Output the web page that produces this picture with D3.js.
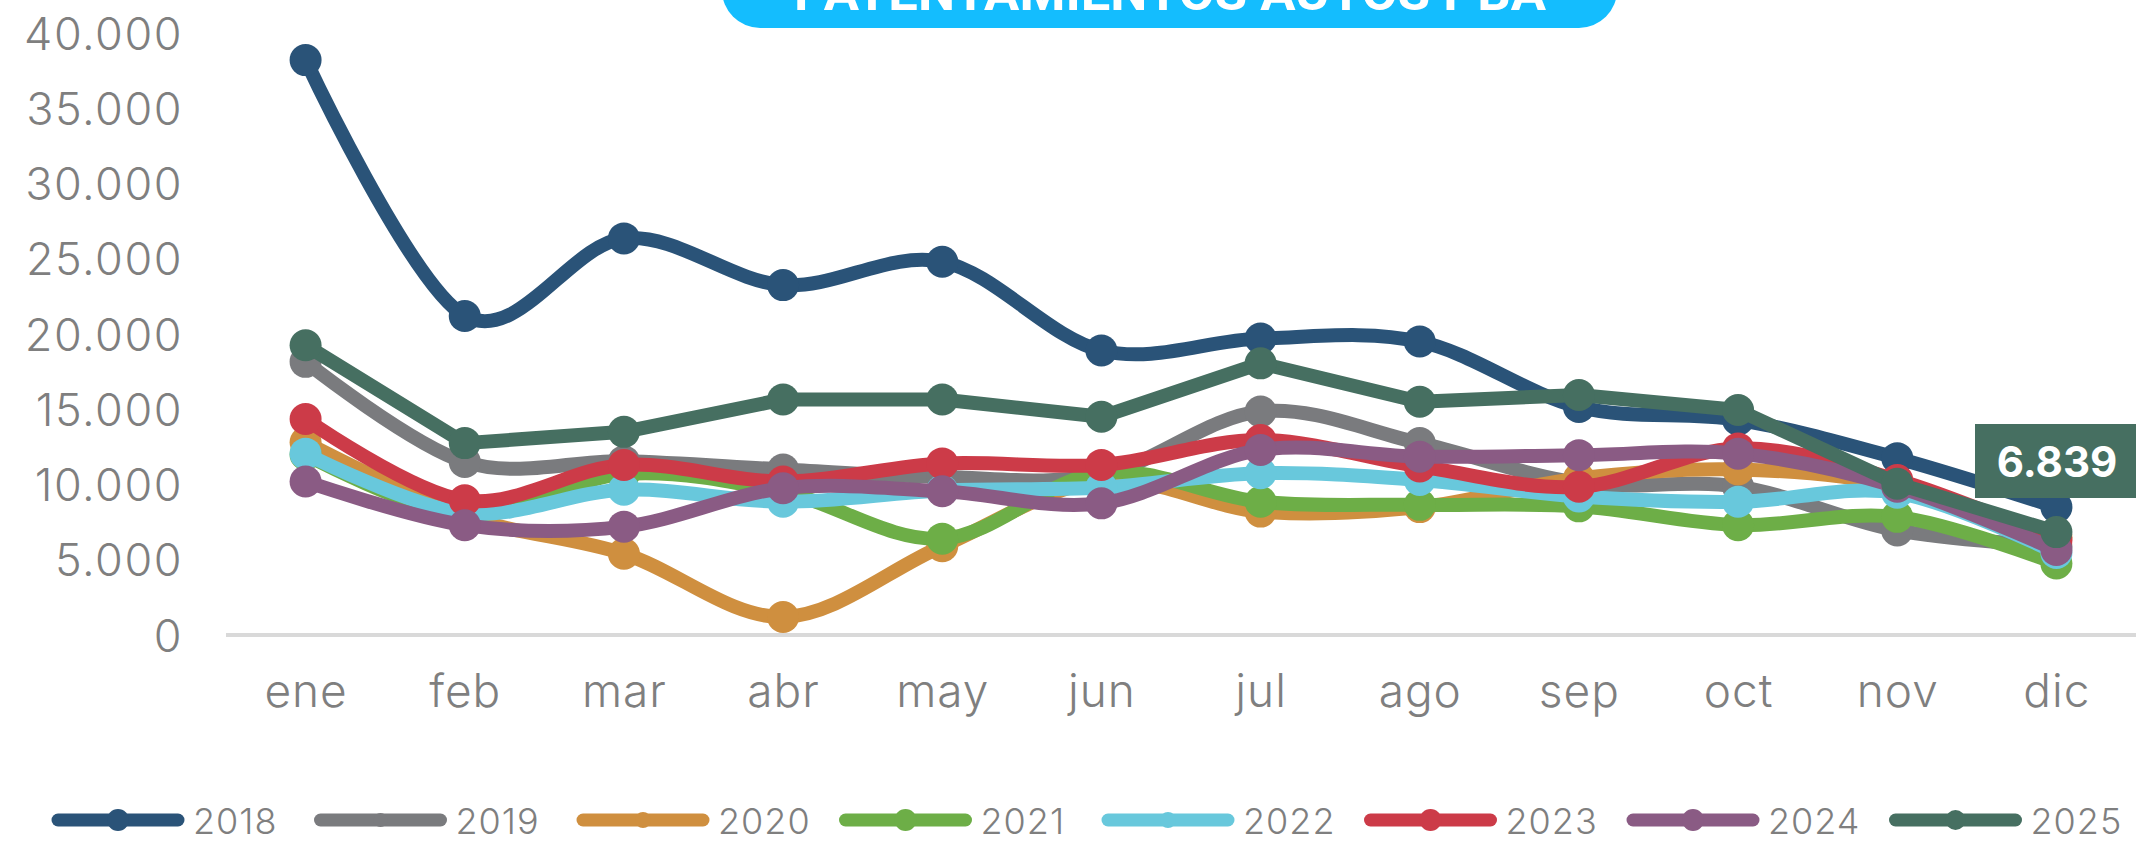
<!DOCTYPE html>
<html>
<head>
<meta charset="utf-8">
<script src="https://cdn.jsdelivr.net/npm/d3@7"></script>
<style>
    body { margin: 0; background: #fff; }
    svg { display: block; }
</style>
</head>
<body>
<svg id="chart" width="2136" height="843"></svg>
<script>
var months = ["ene", "feb", "mar", "abr", "may", "jun", "jul", "ago", "sep", "oct", "nov", "dic"];
var years = ["2018", "2019", "2020", "2021", "2022", "2023", "2024", "2025"];
var yTicks = [0, 5000, 10000, 15000, 20000, 25000, 30000, 35000, 40000];

var v2018 = [38200, 21200, 26350, 23250, 24800, 18900, 19700, 19500, 15150, 14300, 11750, 8500];
var v2019 = [18150, 11500, 11550, 11000, 10500, 10650, 14850, 12750, 10100, 9850, 6950, 5900];
var v2020 = [12800, 7900, 5400, 1200, 5900, 10250, 8200, 8500, 10400, 11000, 9900, 6500];
var v2021 = [12000, 8000, 10700, 9500, 6400, 10800, 8850, 8650, 8550, 7300, 7850, 4750];
var v2022 = [12050, 8100, 9650, 8850, 9600, 9800, 10750, 10300, 9200, 8850, 9450, 5450];
var v2023 = [14350, 8950, 11300, 10200, 11400, 11300, 12950, 11200, 9850, 12400, 10300, 6300];
var v2024 = [10200, 7300, 7200, 9750, 9550, 8750, 12300, 11850, 11950, 12050, 9850, 5650];
var v2025 = [19250, 12750, 13500, 15650, 15650, 14500, 18050, 15500, 15950, 14950, 10050, 6839];

var lastLabel = "6.839";

var colors = ["#2a5378", "#7a7b7e", "#cf8f3f", "#6dae47", "#68c8dc", "#cc3b48", "#8a5b84", "#466f61"];
var legendR = [11, 7, 8, 11, 8, 11, 11, 10];
var smooth = [true, true, true, true, true, true, true, false];

var values = [v2018, v2019, v2020, v2021, v2022, v2023, v2024, v2025];
var series = years.map(function(y, i) {
    return { year: y, values: values[i], color: colors[i], legendR: legendR[i], smooth: smooth[i] };
});

var fmt = function(v) { return d3.format(",")(v).replace(/,/g, "."); };

var svg = d3.select("#chart");

// title pill, cut by the top edge as in the original
svg.append("rect")
    .attr("x", 722).attr("y", -60)
    .attr("width", 895).attr("height", 88)
    .attr("rx", 38).attr("ry", 38)
    .attr("fill", "#14bdfe");
svg.append("text")
    .attr("x", 1170).attr("y", 10)
    .attr("text-anchor", "middle")
    .attr("textLength", 752)
    .attr("lengthAdjust", "spacingAndGlyphs")
    .style("font-family", "Roboto, sans-serif")
    .style("font-weight", "700")
    .style("font-size", "50px")
    .attr("fill", "#fff")
    .text("PATENTAMIENTOS AUTOS PBA");

var x = d3.scalePoint()
    .domain(months)
    .range([226, 2136])
    .padding(0.5);

var y = d3.scaleLinear()
    .domain([0, 40000])
    .range([635, 33]);

// y axis labels only
var yAxis = svg.append("g")
    .attr("transform", "translate(183,0)")
    .call(d3.axisLeft(y).tickValues(yTicks).tickFormat(fmt).tickSize(0).tickPadding(0));
yAxis.select(".domain").remove();
yAxis.selectAll("text")
    .attr("dy", "0.36em")
    .style("font-family", "Inter, sans-serif")
    .style("font-weight", "300")
    .style("font-size", "45px")
    .style("letter-spacing", "1.5px")
    .attr("fill", "#7f7f7f");

// x axis
var xAxis = svg.append("g")
    .attr("transform", "translate(0,635)")
    .call(d3.axisBottom(x).tickSize(0).tickPadding(0));
xAxis.select(".domain")
    .attr("stroke", "#d9d9d9")
    .attr("stroke-width", 4)
    .attr("d", "M226,0H2136");
xAxis.selectAll("text")
    .attr("y", 72)
    .attr("dy", 0)
    .style("font-family", "Inter, sans-serif")
    .style("font-weight", "300")
    .style("font-size", "46px")
    .style("letter-spacing", "1px")
    .attr("fill", "#7f7f7f");

// series
var groups = svg.append("g")
    .selectAll("g")
    .data(series)
    .enter().append("g");

groups.append("path")
    .attr("fill", "none")
    .attr("stroke", function(d) { return d.color; })
    .attr("stroke-width", 14)
    .attr("stroke-linejoin", "round")
    .attr("stroke-linecap", "round")
    .attr("d", function(d) {
        var line = d3.line()
            .x(function(v, i) { return x(months[i]); })
            .y(function(v) { return y(v); })
            .curve(d.smooth ? d3.curveCatmullRom.alpha(0) : d3.curveLinear);
        return line(d.values);
    });

groups.selectAll("circle")
    .data(function(d) { return d.values.map(function(v, i) { return { v: v, i: i, color: d.color }; }); })
    .enter().append("circle")
    .attr("cx", function(d) { return x(months[d.i]); })
    .attr("cy", function(d) { return y(d.v); })
    .attr("r", 16)
    .attr("fill", function(d) { return d.color; });

// data label for last point of 2025
svg.append("rect")
    .attr("x", 1975).attr("y", 424)
    .attr("width", 161).attr("height", 74)
    .attr("fill", colors[7]);
svg.append("text")
    .attr("x", 2057).attr("y", 477)
    .attr("text-anchor", "middle")
    .style("font-family", "Inter, sans-serif")
    .style("font-weight", "700")
    .style("font-size", "42px")
    .attr("fill", "#fff")
    .text(lastLabel);

// legend
var legend = svg.append("g")
    .selectAll("g")
    .data(series)
    .enter().append("g")
    .attr("transform", function(d, i) { return "translate(" + (58 + i * 262.5) + ",820)"; });

legend.append("line")
    .attr("x1", 0).attr("x2", 120)
    .attr("stroke", function(d) { return d.color; })
    .attr("stroke-width", 13)
    .attr("stroke-linecap", "round");
legend.append("circle")
    .attr("cx", 60)
    .attr("r", function(d) { return d.legendR; })
    .attr("fill", function(d) { return d.color; });
legend.append("text")
    .attr("x", 135).attr("y", 14)
    .style("font-family", "Inter, sans-serif")
    .style("font-weight", "300")
    .style("font-size", "36px")
    .style("letter-spacing", "1px")
    .attr("fill", "#7f7f7f")
    .text(function(d) { return d.year; });
</script>
</body>
</html>
